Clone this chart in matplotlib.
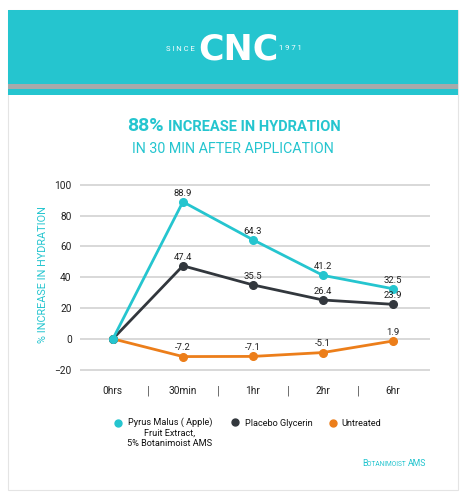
import matplotlib.pyplot as plt
from matplotlib.patches import Rectangle
from matplotlib.lines import Line2D
from matplotlib.transforms import blended_transform_factory
from matplotlib.offsetbox import TextArea, HPacker, AnnotationBbox

# data
times = ['0hrs', '30min', '1hr', '2hr', '6hr']
apple = [0, 88.9, 64.3, 41.2, 32.5]
placebo = [0, 47.4, 35.5, 26.4, 23.9]                # labels
placebo_pos = [0, 47.4, 35.0, 25.2, 22.4]            # where the dots sit
untreated = [0, -11.5, -11.4, -8.9, -1.4]            # where the dots sit
untreated_lbl = ['', '-7.2', '-7.1', '-5.1', '1.9']  # what the labels say
series_names = ['Pyrus Malus ( Apple)\nFruit Extract,\n5% Botanimoist AMS',
                'Placebo Glycerin', 'Untreated']

teal = '#25C5CF'
dark = '#32373d'
orange = '#EC7E1A'
FONT = 'Roboto'
W, H = 465, 500

def fx(px):
    return px / W

def fy(py):
    return 1 - py / H

fig = plt.figure(figsize=(4.65, 5), dpi=100)
fig.patch.set_facecolor('white')

# card + header
fig.add_artist(Rectangle((fx(8), fy(490)), fx(450), (490 - 10) / H, transform=fig.transFigure,
                         facecolor='white', edgecolor='#e4e4e4', lw=0.8, zorder=-5))
fig.add_artist(Rectangle((fx(8), fy(95)), fx(450), 85 / H, transform=fig.transFigure,
                         facecolor=teal, edgecolor='none', zorder=-4))
fig.add_artist(Rectangle((fx(8), fy(89)), fx(450), 4.5 / H, transform=fig.transFigure,
                         facecolor='#a7a9aa', edgecolor='none', zorder=-3))
fig.text(fx(238), fy(50), 'CNC', color='white', fontsize=25, fontweight='bold',
         family='DejaVu Sans', ha='center', va='center')
fig.text(fx(195), fy(49), 'S I N C E', color='white', fontsize=5.5, ha='right', va='center', family=FONT)
fig.text(fx(279), fy(48), '1 9 7 1', color='white', fontsize=5.5, ha='left', va='center', family=FONT)

# titles
fig.text(fx(164), fy(126), '88%', color=teal, fontsize=14, fontweight='bold',
         ha='right', va='center', family=FONT)
fig.text(fx(168), fy(127), 'INCREASE IN HYDRATION', color=teal, fontsize=10.5, fontweight='bold',
         ha='left', va='center', family=FONT)
fig.text(fx(233), fy(149), 'IN 30 MIN AFTER APPLICATION', color=teal, fontsize=10.3,
         ha='center', va='center', family=FONT)

# chart
ax = fig.add_axes([fx(80), fy(382), fx(350), 205 / H])
x = list(range(len(times)))
for vals, c in [(untreated, orange), (placebo_pos, dark), (apple, teal)]:
    ax.plot(x, vals, color=c, lw=2, marker='o', ms=5.5, zorder=3)

for i in x[1:]:
    for v, lbl in [(apple[i], f'{apple[i]:.1f}'), (placebo_pos[i], f'{placebo[i]:.1f}'),
                   (untreated[i], untreated_lbl[i])]:
        ax.annotate(lbl, (i, v), xytext=(0, 3), textcoords='offset points',
                    ha='center', va='bottom', fontsize=6.8, color='#222222', family=FONT)

ax.set_xlim(-0.47, 4.53)
ax.set_ylim(-28, 105)
ax.set_yticks(range(-20, 101, 20))
ax.grid(axis='y', color='#d6d6d6', lw=1.3)
ax.set_axisbelow(True)
for s in ax.spines.values():
    s.set_visible(False)
ax.tick_params(length=0)
ax.set_xticks(x)
ax.set_xticklabels(times, family=FONT, fontsize=7.3, color='#222222')
ax.tick_params(axis='x', pad=3)
for lab in ax.get_yticklabels():
    lab.set_family(FONT)
    lab.set_fontsize(7.3)
    lab.set_color('#222222')
ax.tick_params(axis='y', pad=6)
trans = blended_transform_factory(ax.transData, ax.transAxes)
for i in range(len(times) - 1):
    ax.text(i + 0.5, -0.044, '|', transform=trans, ha='center', va='center', fontsize=7,
            color='#444444')

fig.text(fx(43), fy(275), '% INCREASE IN HYDRATION', rotation=90, color=teal, fontsize=7.8,
         ha='center', va='center', family=FONT)

# legend
leg_pos = [(118, 423), (235, 422), (333, 423)]
for (px, py), c in zip(leg_pos, [teal, dark, orange]):
    fig.add_artist(Line2D([fx(px)], [fy(py)], marker='o', color=c, ms=5, transform=fig.transFigure))
fig.text(fx(170), fy(417), series_names[0], fontsize=6.6, ha='center', va='top',
         linespacing=1.25, family=FONT, color='#111111')
fig.text(fx(245), fy(423), series_names[1], fontsize=6.6, ha='left', va='center',
         family=FONT, color='#111111')
fig.text(fx(341), fy(423), series_names[2], fontsize=6.6, ha='left', va='center',
         family=FONT, color='#111111')

# small-caps footer
parts = [TextArea(t, textprops=dict(fontsize=s, color=teal, family=FONT))
         for t, s in [('B', 6.3), ('OTANIMOIST ', 4.8), ('AMS', 6.3)]]
box = HPacker(children=parts, align='baseline', pad=0, sep=0)
fig.add_artist(AnnotationBbox(box, (fx(426), fy(463)), xycoords='figure fraction',
                              box_alignment=(1, 0.5), frameon=False))

fig.savefig('out.png', dpi=100)
